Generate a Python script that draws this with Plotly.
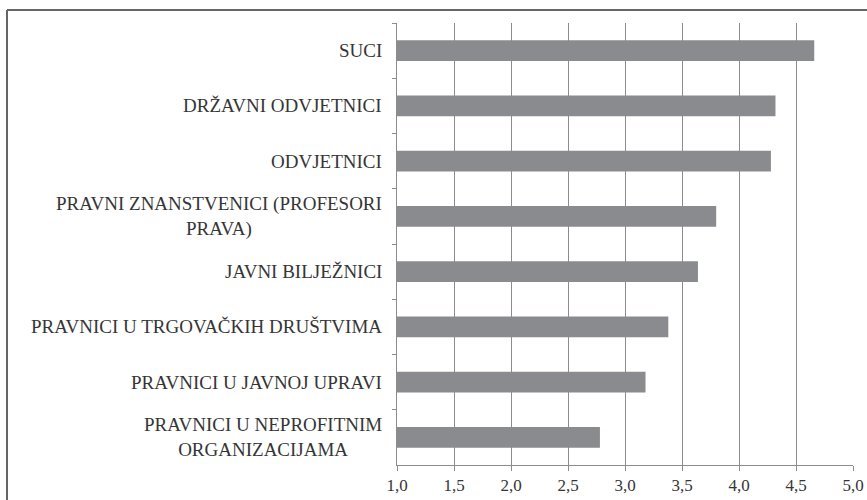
import plotly.graph_objects as go

categories = [
    "SUCI",
    "DRŽAVNI ODVJETNICI",
    "ODVJETNICI",
    "PRAVNI ZNANSTVENICI (PROFESORI<br>PRAVA)",
    "JAVNI BILJEŽNICI",
    "PRAVNICI U TRGOVAČKIH DRUŠTVIMA",
    "PRAVNICI U JAVNOJ UPRAVI",
    "PRAVNICI U NEPROFITNIM<br>ORGANIZACIJAMA",
]
values = [4.66, 4.32, 4.28, 3.80, 3.64, 3.38, 3.18, 2.78]
tick_vals = [1.0, 1.5, 2.0, 2.5, 3.0, 3.5, 4.0, 4.5, 5.0]

W, H = 867, 500
ml, mr, mt, mb = 397, 14, 23, 35
pw, ph = W - ml - mr, H - mt - mb
FONT = "Liberation Serif"
TXT = "#353535"

fig = go.Figure(go.Bar(
    x=values, y=categories, orientation="h",
    base=0,
    marker=dict(color="#8a8b8f", line=dict(width=0)),
    width=0.38,
))

annotations = [
    dict(text=c, x=0, xref="paper", y=c, yref="y", xanchor="right", yanchor="middle",
         xshift=-13, align="center", showarrow=False,
         font=dict(family=FONT, size=19, color=TXT))
    for c in categories
]

fig.update_layout(
    width=W, height=H, autosize=False,
    margin=dict(l=ml, r=mr, t=mt, b=mb, pad=0, autoexpand=False),
    paper_bgcolor="white", plot_bgcolor="white",
    separators=", ",
    font=dict(family=FONT, size=17, color=TXT),
    showlegend=False,
    xaxis=dict(
        range=[1.0, 5.0], tickvals=tick_vals, tickformat=".1f",
        showgrid=True, gridcolor="#8c8c8c", gridwidth=1,
        showline=True, linecolor="#8c8c8c", linewidth=1,
        ticks="outside", ticklen=5, tickcolor="#8c8c8c",
        zeroline=False, automargin=False,
        tickfont=dict(family=FONT, size=17, color=TXT),
    ),
    yaxis=dict(
        autorange="reversed", automargin=False,
        showline=True, linecolor="#8c8c8c", linewidth=1,
        ticks="outside", ticklen=4, tickcolor="#8c8c8c", tickson="boundaries",
        showgrid=False, showticklabels=False,
    ),
    annotations=annotations,
    shapes=[
        dict(type="line", xref="paper", yref="paper",
             x0=(7 - ml) / pw, x1=(W - ml) / pw,
             y0=1 + (mt - 10) / ph, y1=1 + (mt - 10) / ph,
             line=dict(color="#666666", width=2)),
        dict(type="line", xref="paper", yref="paper",
             x0=(7 - ml) / pw, x1=(7 - ml) / pw,
             y0=1 + (mt - 10) / ph, y1=-(mb) / ph,
             line=dict(color="#666666", width=2)),
    ],
)

fig.write_html(
    "out.html",
    config={"displayModeBar": False},
    post_script="document.body.style.margin='0';document.body.style.overflow='hidden';",
)
